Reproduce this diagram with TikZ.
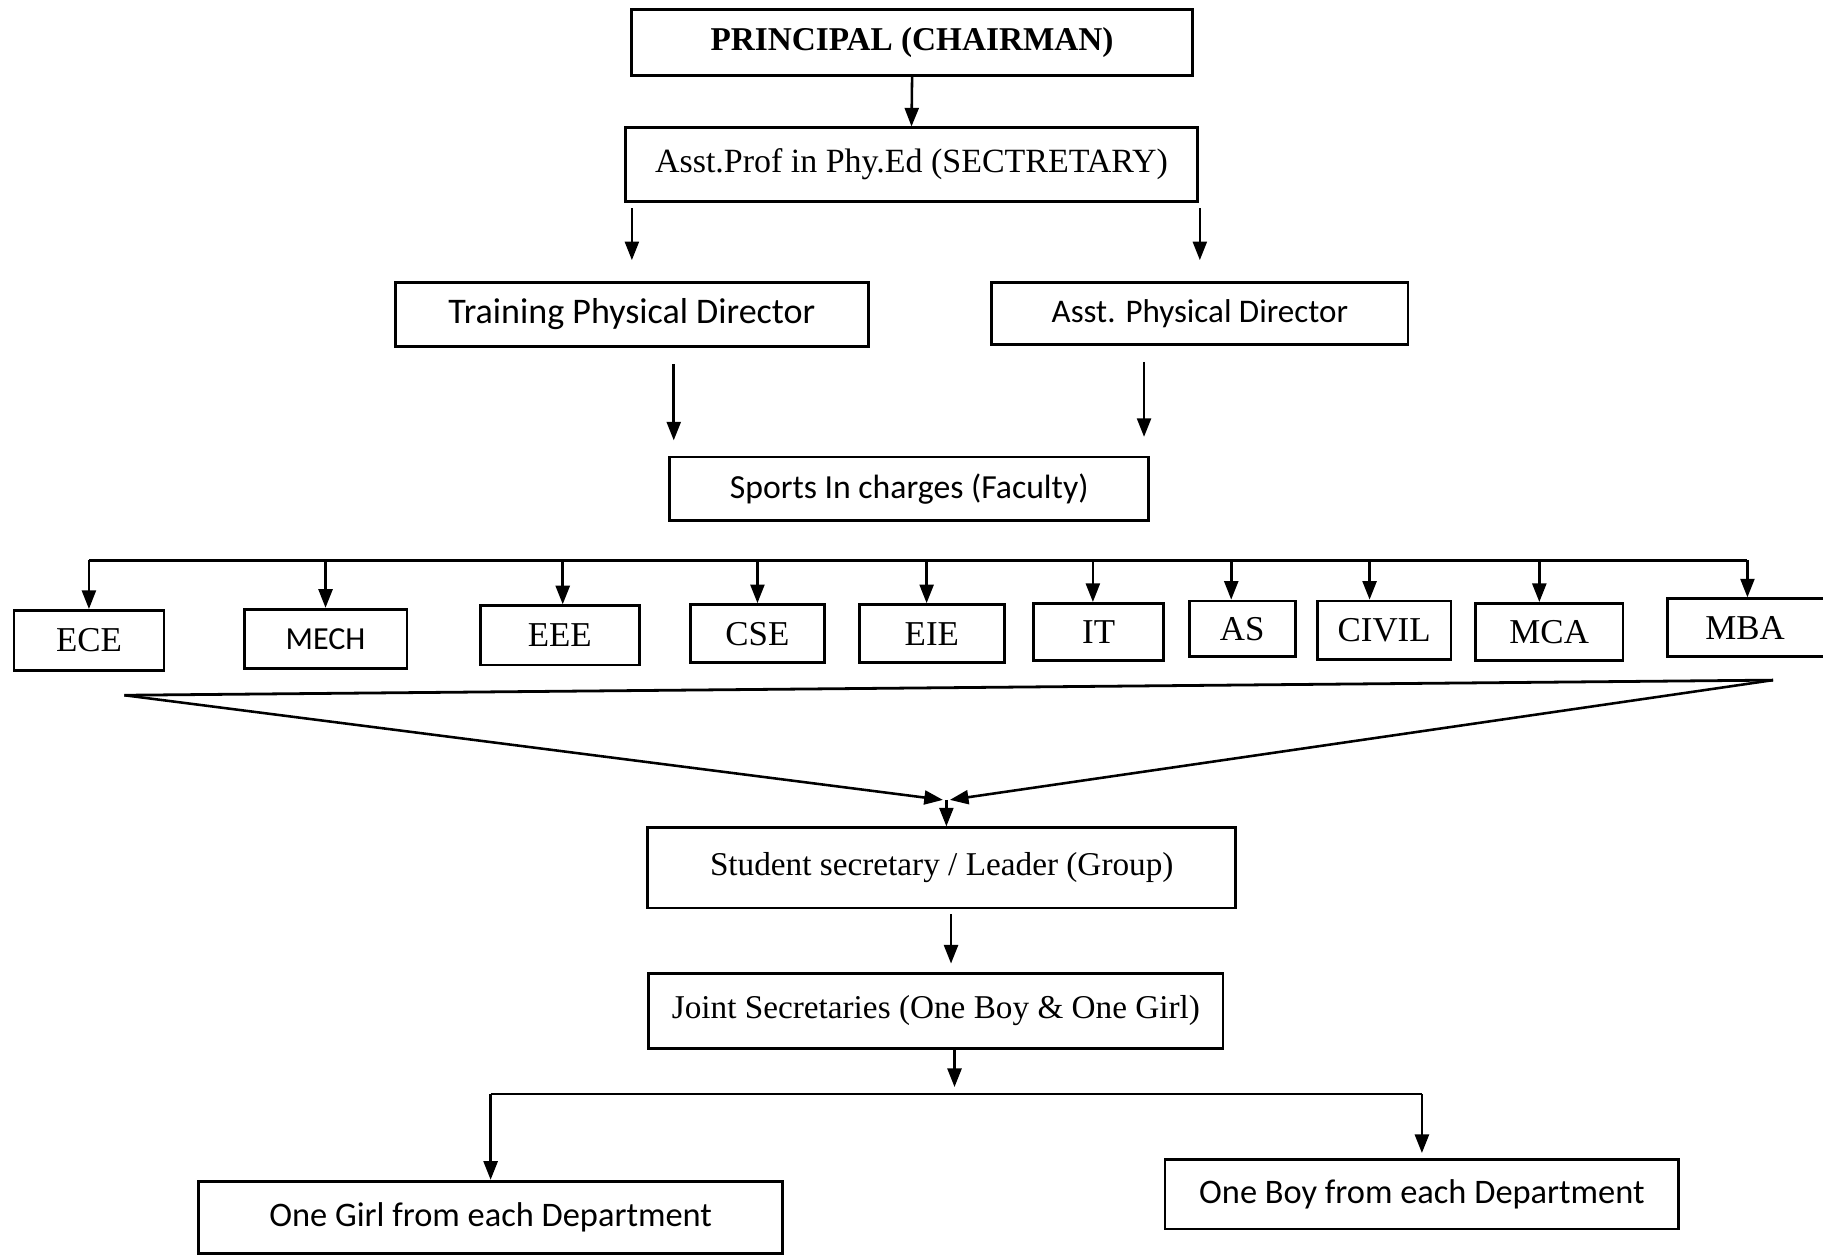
\documentclass[tikz,border=0pt]{standalone}
\usepackage{fontspec}
\setmainfont{Liberation Serif}
\newfontfamily\calib{Carlito}
\usetikzlibrary{arrows.meta,calc}
\begin{document}
\begin{tikzpicture}[x=0.5pt,y=-0.5pt,
  box/.style={draw, line width=1.2pt, inner sep=0pt, align=center},
  serif/.style={box, font=\fontsize{14.3}{16}\selectfont},
  sans/.style={box, font=\calib\fontsize{14.5}{16}\selectfont},
  dept/.style={box, font=\fontsize{15}{17}\selectfont},
  deptsans/.style={box, font=\calib\fontsize{13.8}{15}\selectfont},
  arr/.style={-{Triangle[length=8pt,width=6pt]}, line width=1.1pt},
  ln/.style={line width=1.2pt}]
\useasboundingbox (0,0) rectangle (1568,1079);
\fill[white] (0,0) rectangle (1568,1079);

% top hierarchy
\node[box, font=\bfseries\fontsize{14.3}{16}\selectfont, minimum width=241.5pt, minimum height=28.5pt] (prin) at (784.5,36.5) {PRINCIPAL (CHAIRMAN)};
\node[box, font=\fontsize{14.6}{16}\selectfont, minimum width=246pt, minimum height=31.5pt] (sec) at (784,141.5) {Asst.Prof in Phy.Ed (SECTRETARY)};
\node[box, font=\calib\fontsize{15.5}{17}\selectfont, minimum width=203.5pt, minimum height=27.5pt] (tpd) at (543.5,270.5) {Training Physical Director};
\node[box, font=\calib\fontsize{14.2}{16}\selectfont, minimum width=179pt, minimum height=26.5pt] (apd) at (1032,269.5) {Asst. Physical Director};
\node[sans, minimum width=206pt, minimum height=27.5pt] (sic) at (782,420.5) {Sports In charges (Faculty)};

\draw[arr] (prin.south) -- (sec.north);
\coordinate (s1) at ([yshift=-2.5pt]sec.south -| tpd.north);
\coordinate (s2) at ([yshift=-2.5pt]sec.south -| apd.north);
\draw[arr] (s1) -- ([yshift=9pt]tpd.north);
\draw[arr] (s2) -- ([yshift=9pt]apd.north);
\coordinate (t1) at ([xshift=18pt,yshift=-7pt]tpd.south);
\coordinate (t2) at ([xshift=-24pt,yshift=-7pt]apd.south);
\draw[arr] (t1) -- ([yshift=6.5pt]sic.north -| t1);
\draw[arr] (t2) -- ([yshift=8pt]sic.north -| t2);

% departments
\node[dept, minimum width=64.5pt, minimum height=26pt] (ece) at (76.5,551) {ECE};
\node[deptsans, minimum width=70pt, minimum height=25.5pt] (mech) at (280,549.5) {MECH};
\node[dept, minimum width=68.5pt, minimum height=25.5pt] (eee) at (481.5,546.5) {EEE};
\node[dept, minimum width=57.5pt, minimum height=25pt] (cse) at (651.5,545) {CSE};
\node[dept, minimum width=62.5pt, minimum height=25pt] (eie) at (801.5,545) {EIE};
\node[dept, minimum width=56pt, minimum height=24.5pt] (it) at (945,543.5) {IT};
\node[dept, minimum width=45.5pt, minimum height=24pt] (as) at (1068.5,541) {AS};
\node[dept, minimum width=57.5pt, minimum height=25pt] (civil) at (1190.5,542) {CIVIL};
\node[dept, minimum width=63.5pt, minimum height=24.5pt] (mca) at (1332.5,543.5) {MCA};
\node[dept, minimum width=76pt, minimum height=25pt] (mba) at (1510,540) {MBA\hspace{9pt}};

\coordinate (bus) at (0,482);
\draw[ln] (ece.north |- bus) -- ([xshift=-3.5pt]mba.north |- bus);
\foreach \d/\s in {ece/0,mech/0,eee/1.25,cse/0,eie/-2.25,it/-2.5,as/-4.75,civil/-6.25,mca/-4.25,mba/-3.5}
  \draw[arr] ([xshift=\s pt]\d.north |- bus) -- ([xshift=\s pt]\d.north);

% funnel
\coordinate (fl) at (107,598);
\coordinate (fr) at (1525,585);
\coordinate (fm) at (814,688);
\draw[ln] (fl) -- (fr);
\draw[arr] (fl) -- ([xshift=-1.5pt]fm);
\draw[arr] (fr) -- ([xshift=1.5pt]fm);

% students
\node[serif, minimum width=253pt, minimum height=34.5pt] (stu) at (810,746.5) {Student secretary / Leader (Group)};
\node[serif, minimum width=247pt, minimum height=32.5pt] (joint) at (805,869.5) {Joint Secretaries (One Boy \& One Girl)};
\node[box, font=\calib\fontsize{14.8}{16}\selectfont, minimum width=251pt, minimum height=31pt] (girl) at (422,1047) {One Girl from each Department};
\node[box, font=\calib\fontsize{14.8}{16}\selectfont, minimum width=221pt, minimum height=30pt] (boy) at (1223,1027) {One Boy from each Department};

\draw[arr] (fm) -- (stu.north -| fm);
\coordinate (u1) at ([xshift=4pt,yshift=-2pt]stu.south);
\draw[arr] (u1) -- ([yshift=3.5pt]joint.north -| u1);
\coordinate (j1) at ([xshift=8pt]joint.south);
\coordinate (split) at (0,941);
\draw[arr] (j1) -- ([yshift=3pt]j1 |- split);
\draw[ln] (girl.north |- split) -- (boy.north |- split);
\draw[arr] (girl.north |- split) -- (girl.north);
\draw[arr] (boy.north |- split) -- ([yshift=2pt]boy.north);
\end{tikzpicture}
\end{document}
